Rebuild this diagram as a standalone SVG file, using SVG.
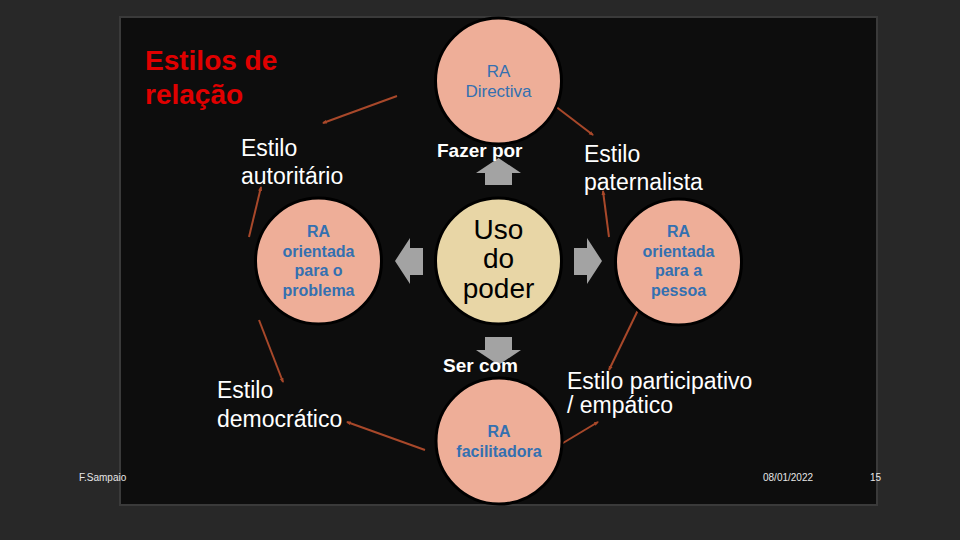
<svg xmlns="http://www.w3.org/2000/svg" width="960" height="540" viewBox="0 0 960 540">
<style>
.bg{fill:#282828}
.panel{fill:#0d0d0d;stroke:#3a3a3a;stroke-width:2}
.ra{fill:#eeae98;stroke:#000;stroke-width:3}
.core{fill:#e8d6a6;stroke:#000;stroke-width:3}
.lbl{font-family:"Liberation Sans",Arial,sans-serif;fill:#3470b0;text-anchor:middle}
.b{font-weight:bold}
.st{font-family:"Liberation Sans",Arial,sans-serif;fill:#ffffff;font-size:23px}
.wb{font-family:"Liberation Sans",Arial,sans-serif;fill:#ffffff;font-weight:bold;font-size:19px}
.ft{font-family:"Liberation Sans",Arial,sans-serif;fill:#e6e6e6;font-size:10px}
.ln{stroke:#a8482a;stroke-width:2;fill:none;marker-end:url(#ah)}
.blk{fill:#a3a3a3}
</style>
<defs>
<marker id="ah" viewBox="0 0 10 10" refX="8" refY="5" markerWidth="5" markerHeight="5" markerUnits="userSpaceOnUse" orient="auto">
<path d="M0,1 L10,5 L0,9 z" fill="#a8482a"/>
</marker>
</defs>
<rect class="bg" x="0" y="0" width="960" height="540"/>
<rect class="panel" x="120" y="17" width="757" height="488"/>

<text x="145" y="70" font-family="Liberation Sans, Arial, sans-serif" font-weight="bold" font-size="28" fill="#e00000">Estilos de</text>
<text x="145" y="104" font-family="Liberation Sans, Arial, sans-serif" font-weight="bold" font-size="28" fill="#e00000">relação</text>

<g id="connectors">
<line class="ln" x1="397" y1="96" x2="323" y2="123"/>
<line class="ln" x1="542" y1="96" x2="593" y2="135"/>
<line class="ln" x1="249" y1="237" x2="261" y2="187"/>
<line class="ln" x1="609" y1="237" x2="603" y2="191"/>
<line class="ln" x1="638" y1="310" x2="609" y2="370"/>
<line class="ln" x1="259" y1="320" x2="283" y2="382"/>
<line class="ln" x1="425" y1="450" x2="347" y2="422"/>
<line class="ln" x1="543" y1="455" x2="598" y2="422"/>
<polygon class="blk" points="498.5,158 521,173 512,173 512,185 485,185 485,173 476,173"/>
<polygon class="blk" points="485,337 512,337 512,350 521,350 498.5,365 476,350 485,350"/>
<polygon class="blk" points="395,261 410,238 410,248 423,248 423,275 410,275 410,284"/>
<polygon class="blk" points="602,261 587,238 587,248 574,248 574,275 587,275 587,284"/>
</g>

<g id="ra-directiva">
<circle class="ra" cx="498.5" cy="81" r="63"/>
<text class="lbl" x="498.5" y="77" font-size="17">RA</text>
<text class="lbl" x="498.5" y="97" font-size="17">Directiva</text>
</g>

<g id="ra-problema">
<circle class="ra" cx="318.5" cy="261" r="63"/>
<text class="lbl b" x="318.5" y="237" font-size="16">RA</text>
<text class="lbl b" x="318.5" y="257" font-size="16">orientada</text>
<text class="lbl b" x="318.5" y="276" font-size="16">para o</text>
<text class="lbl b" x="318.5" y="296" font-size="16">problema</text>
</g>

<g id="uso-poder">
<circle class="core" cx="498.5" cy="261" r="63"/>
<text x="498.5" y="239" font-family="Liberation Sans, Arial, sans-serif" font-size="28" fill="#000" text-anchor="middle">Uso</text>
<text x="498.5" y="268" font-family="Liberation Sans, Arial, sans-serif" font-size="28" fill="#000" text-anchor="middle">do</text>
<text x="498.5" y="298" font-family="Liberation Sans, Arial, sans-serif" font-size="28" fill="#000" text-anchor="middle">poder</text>
</g>

<g id="ra-pessoa">
<circle class="ra" cx="678.5" cy="262" r="63"/>
<text class="lbl b" x="678.5" y="237" font-size="16">RA</text>
<text class="lbl b" x="678.5" y="257" font-size="16">orientada</text>
<text class="lbl b" x="678.5" y="276" font-size="16">para a</text>
<text class="lbl b" x="678.5" y="296" font-size="16">pessoa</text>
</g>

<g id="ra-facilitadora">
<circle class="ra" cx="499" cy="441" r="63"/>
<text class="lbl b" x="499" y="437" font-size="16">RA</text>
<text class="lbl b" x="499" y="457" font-size="16">facilitadora</text>
</g>

<g id="fazer-por"><text class="wb" x="437" y="157">Fazer por</text></g>
<g id="ser-com"><text class="wb" x="443" y="372">Ser com</text></g>

<g id="estilo-autoritario">
<text class="st" x="241" y="156">Estilo</text>
<text class="st" x="241" y="184">autoritário</text>
</g>
<g id="estilo-paternalista">
<text class="st" x="584" y="162">Estilo</text>
<text class="st" x="584" y="190">paternalista</text>
</g>
<g id="estilo-democratico">
<text class="st" x="217" y="398">Estilo</text>
<text class="st" x="217" y="427">democrático</text>
</g>
<g id="estilo-participativo">
<text class="st" x="567" y="389" font-size="19">Estilo participativo</text>
<text class="st" x="567" y="413" font-size="19">/ empático</text>
</g>

<text class="ft" x="79" y="481">F.Sampaio</text>
<text class="ft" x="763" y="481">08/01/2022</text>
<text class="ft" x="870" y="481">15</text>
</svg>
